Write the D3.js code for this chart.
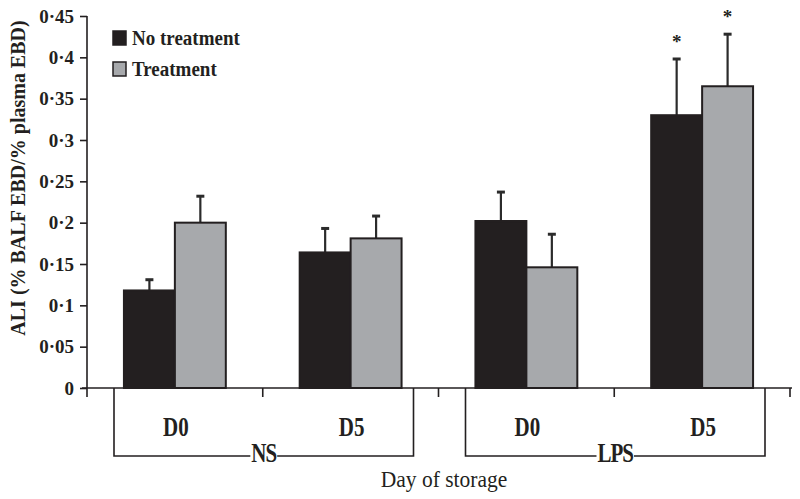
<!DOCTYPE html>
<html><head><meta charset="utf-8">
<script src="https://cdn.jsdelivr.net/npm/d3@7"></script>
<style>
html,body{margin:0;padding:0;background:#fff;}
svg{display:block;}
text{font-family:"Liberation Serif","Times New Roman",serif;}
</style></head>
<body>
<svg id="chart" width="800" height="499"></svg>
<script>
const categories = ["NS D0", "NS D5", "LPS D0", "LPS D5"];
const dayLabels = ["D0", "D5", "D0", "D5"];
const groupNames = ["NS", "LPS"];
const groupMembers = [[0, 1], [2, 3]];
const seriesNames = ["No treatment", "Treatment"];
const noTreatment = [0.118, 0.164, 0.202, 0.330];
const noTreatmentErr = [0.013, 0.029, 0.035, 0.068];
const treatment = [0.200, 0.181, 0.146, 0.365];
const treatmentErr = [0.032, 0.027, 0.040, 0.063];
const noTreatmentSig = [false, false, false, true];
const treatmentSig = [false, false, false, true];
const yTicks = [0, 0.05, 0.1, 0.15, 0.2, 0.25, 0.3, 0.35, 0.4, 0.45];
const xTitle = "Day of storage";
const yTitle = "ALI (% BALF EBD/% plasma EBD)";

const colors = ["#231f20", "#a7a9ac"];
const svg = d3.select("#chart");

const x0 = d3.scaleBand().domain(categories).range([87, 790]).paddingInner(0).paddingOuter(0);
const x1 = d3.scaleBand().domain(seriesNames).range([0, x0.bandwidth()]).paddingInner(0).paddingOuter(0.725);
const y = d3.scaleLinear().domain([0, 0.45]).range([388, 16]);

const fmt = d => d === 0 ? "0" : String(+d.toFixed(2)).replace(".", "·");

// Y axis
const yAxis = svg.append("g").attr("transform", "translate(87,0)")
  .call(d3.axisLeft(y).tickValues(yTicks).tickFormat(fmt).tickSize(7).tickPadding(6));
yAxis.select(".domain").attr("stroke", "#231f20").attr("stroke-width", 1.6).attr("d", `M0,${y(0.45)}V${y(0)}`);
yAxis.selectAll(".tick line").attr("stroke", "#231f20").attr("stroke-width", 1.6);
yAxis.selectAll(".tick text").attr("font-size", 19).attr("font-weight", "bold").attr("fill", "#231f20")
  .attr("font-family", "Liberation Serif");

// X axis line & ticks at band boundaries
const xb = categories.map(c => x0(c)).concat([x0.range()[1]]);
svg.append("line").attr("x1", 82).attr("x2", 792).attr("y1", y(0)).attr("y2", y(0))
  .attr("stroke", "#231f20").attr("stroke-width", 1.6);
svg.selectAll(".xt").data(xb).enter().append("line")
  .attr("x1", d => d).attr("x2", d => d).attr("y1", y(0)).attr("y2", y(0) + 9)
  .attr("stroke", "#231f20").attr("stroke-width", 1.6);

// Bars
const series = [
  {name: seriesNames[0], vals: noTreatment, err: noTreatmentErr, sig: noTreatmentSig, color: colors[0]},
  {name: seriesNames[1], vals: treatment, err: treatmentErr, sig: treatmentSig, color: colors[1]}
];
series.forEach(s => {
  const g = svg.append("g");
  categories.forEach((c, i) => {
    const bx = x0(c) + x1(s.name);
    const bw = x1.bandwidth();
    const cx = bx + bw / 2;
    g.append("line").attr("x1", cx).attr("x2", cx).attr("y1", y(s.vals[i])).attr("y2", y(s.vals[i] + s.err[i]))
      .attr("stroke", "#2b2b2b").attr("stroke-width", 2.2);
    g.append("line").attr("x1", cx - 4).attr("x2", cx + 4).attr("y1", y(s.vals[i] + s.err[i])).attr("y2", y(s.vals[i] + s.err[i]))
      .attr("stroke", "#2b2b2b").attr("stroke-width", 3);
    g.append("rect").attr("x", bx).attr("y", y(s.vals[i])).attr("width", bw).attr("height", y(0) - y(s.vals[i]))
      .attr("fill", s.color).attr("stroke", "#231f20").attr("stroke-width", 2);
    if (s.sig[i]) {
      g.append("text").attr("x", cx).attr("y", y(s.vals[i] + s.err[i]) - 11)
        .attr("text-anchor", "middle").attr("font-size", 19).attr("font-weight", "bold").attr("fill", "#231f20")
        .text("*");
    }
  });
});

// Day labels (vertically stretched like the original)
svg.selectAll(".day").data(categories).enter().append("text")
  .attr("transform", c => `translate(${x0(c) + x0.bandwidth() / 2 + 1},436) scale(1,1.28)`)
  .attr("text-anchor", "middle").attr("font-size", 21).attr("font-weight", "bold").attr("fill", "#231f20")
  .text((c, i) => dayLabels[i]);

// Group brackets
const boxBottom = 456;
groupNames.forEach((gName, gi) => {
  const first = categories[groupMembers[gi][0]];
  const last = categories[groupMembers[gi][1]];
  const left = x0(first) + 27;
  const right = x0(last) + x0.bandwidth() - 25;
  const mid = (left + right) / 2;
  const t = svg.append("text").attr("transform", `translate(${mid},462) scale(1,1.28)`)
    .attr("text-anchor", "middle").attr("font-size", 21).attr("font-weight", "bold").attr("fill", "#231f20")
    .attr("letter-spacing", -1).text(gName);
  const tw = t.node().getComputedTextLength();
  svg.append("path")
    .attr("d", `M${left},${y(0)}V${boxBottom}H${mid - tw / 2 - 1}M${mid + tw / 2 + 1},${boxBottom}H${right}V${y(0)}`)
    .attr("fill", "none").attr("stroke", "#231f20").attr("stroke-width", 1.6);
});

// X title
svg.append("text").attr("transform", "translate(444,487) scale(1,1.1)").attr("text-anchor", "middle")
  .attr("font-size", 21.5).attr("fill", "#231f20").text(xTitle);

// Y title
svg.append("text").attr("transform", "translate(25,178) rotate(-90) scale(1,1.1)").attr("text-anchor", "middle")
  .attr("font-size", 20).attr("font-weight", "bold").attr("fill", "#231f20").text(yTitle);

// Legend
const legend = svg.append("g");
series.forEach((s, i) => {
  legend.append("rect").attr("x", 113).attr("y", 31 + i * 31).attr("width", 13).attr("height", 14)
    .attr("fill", s.color).attr("stroke", "#231f20").attr("stroke-width", 1.5);
  legend.append("text").attr("transform", `translate(132,${45 + i * 31}) scale(1,1.15)`)
    .attr("font-size", 19).attr("font-weight", "bold")
    .attr("fill", "#231f20").text(s.name);
});
</script>
</body></html>
